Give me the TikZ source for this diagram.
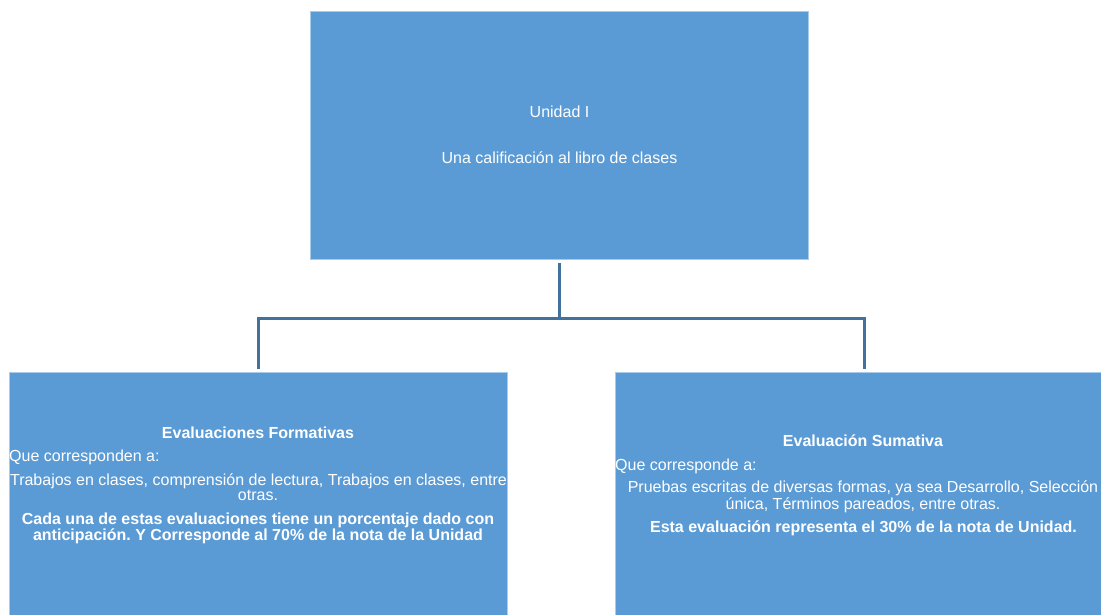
\documentclass[tikz,border=0pt]{standalone}
\usepackage{fontspec}
\setmainfont{Liberation Sans}
\frenchspacing
\definecolor{boxblue}{HTML}{5B9BD5}
\definecolor{boxedge}{HTML}{A9CBEB}
\definecolor{connblue}{HTML}{41719C}
\tikzset{
  box/.style={rectangle, fill=boxblue, draw=boxedge, line width=0.8pt, inner sep=0pt, outer sep=0pt, minimum width=498pt, minimum height=248pt},
  conn/.style={draw=connblue, line width=3pt},
  txt/.style={text=white, inner sep=0pt, anchor=base, font=\fontsize{16}{16.5}\selectfont},
  btxt/.style={txt, font=\fontsize{16}{16.5}\selectfont\bfseries},
}
\begin{document}
\begin{tikzpicture}[x=1pt,y=-1pt]
\useasboundingbox (0,0) rectangle (1101,614);
\clip (0,0) rectangle (1101,614);
% boxes
\node[box] (top) at (559.5,135.5) {};
\node[box] (left) at (258,496) {};
\node[box] (right) at (864,496) {};
% connectors
\coordinate (j) at (559.5,318);
\draw[conn] ([yshift=-3pt]top.south) -- (j);
\draw[conn] ([yshift=3pt]left.north) |- (j) -| ([yshift=3pt]right.north);
% top text
\node[txt] (t1) at (559.5,117.3) {Unidad I};
\node[txt] (t2) at (559.5,163.3) {Una calificación al libro de clases};
% left text
\node[btxt] (l1) at (258,438.3) {Evaluaciones Formativas};
\node[txt, anchor=base west] (l2) at (9,461.7) {Que corresponden a:};
\node[txt] (l3) at (258.5,485) {Trabajos en clases, comprensión de lectura, Trabajos en clases, entre};
\node[txt] (l4) at (258,500.7) {otras.};
\node[btxt] (l5) at (258,524) {Cada una de estas evaluaciones tiene un porcentaje dado con};
\node[btxt] (l6) at (258,540) {anticipación. Y Corresponde al 70\% de la nota de la Unidad};
% right text
\node[btxt] (r1) at (863,446) {Evaluación Sumativa};
\node[txt, anchor=base west] (r2) at (615,470) {Que corresponde a:};
\node[txt] (r3) at (863,492.3) {Pruebas escritas de diversas formas, ya sea Desarrollo, Selección};
\node[txt] (r4) at (863,509) {única, Términos pareados, entre otras.};
\node[btxt] (r5) at (863.5,532.3) {Esta evaluación representa el 30\% de la nota de Unidad.};
\end{tikzpicture}
\end{document}
